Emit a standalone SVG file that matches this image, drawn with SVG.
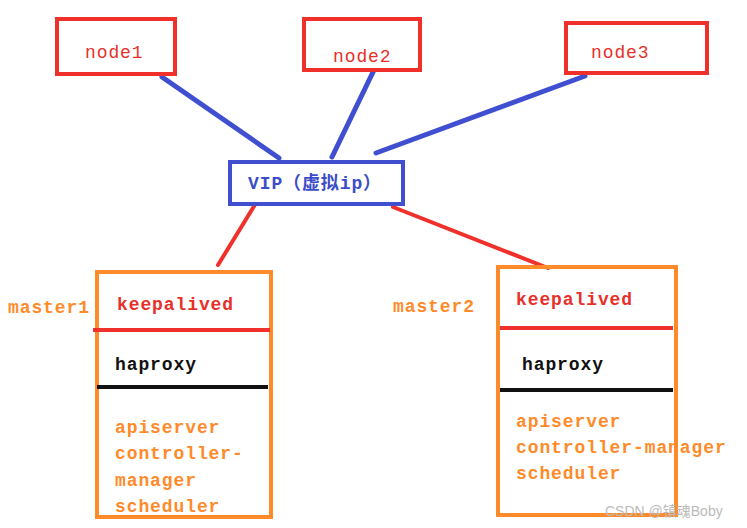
<svg xmlns="http://www.w3.org/2000/svg" width="747" height="528" viewBox="0 0 747 528">
<style>
.t{font-family:"Liberation Mono","Noto Sans CJK SC",monospace;font-size:18px;letter-spacing:0.9px}
.b{font-weight:bold}
.red{fill:#e8302a}
.org{fill:#ff8a2a}
.blk{fill:#111}
.blu{fill:#3b4dc8}
.nodebox{fill:#fff;stroke:#f0302a;stroke-width:4}
.mbox{fill:none;stroke:#ff8a2a;stroke-width:4}
.bl{stroke:#3f4fd0;stroke-width:5;stroke-linecap:round}
.rl{stroke:#f0302a;stroke-width:4;stroke-linecap:round}
</style>
<rect width="747" height="528" fill="#fff"/>
<g id="connectors">
<line class="bl" x1="162" y1="77" x2="279" y2="158"/>
<line class="bl" x1="374" y1="70" x2="332" y2="157"/>
<line class="bl" x1="585" y1="76" x2="376" y2="153"/>
<line class="rl" x1="256" y1="203" x2="218" y2="265"/>
<line class="rl" x1="393" y1="207" x2="548" y2="268"/>
</g>
<g id="node1">
<rect class="nodebox" x="57" y="19" width="118" height="55"/>
<text class="t red" x="85" y="58">node1</text>
</g>
<g id="node2">
<rect class="nodebox" x="304" y="19" width="116" height="51"/>
<text class="t red" x="333" y="62">node2</text>
</g>
<g id="node3">
<rect class="nodebox" x="566" y="23" width="141" height="50"/>
<text class="t red" x="591" y="58">node3</text>
</g>
<g id="vip">
<rect x="230" y="162" width="173" height="42" fill="#fff" stroke="#3f4fd0" stroke-width="4"/>
<text class="t blu b" x="248" y="189" textLength="134" lengthAdjust="spacingAndGlyphs">VIP（虚拟ip）</text>
</g>
<g id="master1">
<text class="t org b" x="8" y="313">master1</text>
<rect class="mbox" x="97" y="272" width="174" height="245"/>
<line x1="93" y1="330" x2="270" y2="330" stroke="#f0302a" stroke-width="4"/>
<line x1="97" y1="387" x2="268" y2="387" stroke="#111" stroke-width="4"/>
<text class="t red b" x="117" y="310">keepalived</text>
<text class="t blk b" x="115" y="370">haproxy</text>
<text class="t org b" x="115" y="433">apiserver</text>
<text class="t org b" x="115" y="459">controller-</text>
<text class="t org b" x="115" y="486">manager</text>
<text class="t org b" x="115" y="512">scheduler</text>
</g>
<g id="master2">
<text class="t org b" x="393" y="312">master2</text>
<rect class="mbox" x="498" y="267" width="178" height="248"/>
<line x1="500" y1="328" x2="673" y2="328" stroke="#f0302a" stroke-width="4"/>
<line x1="500" y1="390" x2="673" y2="390" stroke="#111" stroke-width="4"/>
<text class="t red b" x="516" y="305">keepalived</text>
<text class="t blk b" x="522" y="370">haproxy</text>
<text class="t org b" x="516" y="427">apiserver</text>
<text class="t org b" x="516" y="453">controller-manager</text>
<text class="t org b" x="516" y="479">scheduler</text>
</g>
<text x="605" y="516" font-family="'Liberation Sans','Noto Sans CJK SC',sans-serif" font-size="14" fill="#bbb">CSDN @镇魂Boby</text>
</svg>
